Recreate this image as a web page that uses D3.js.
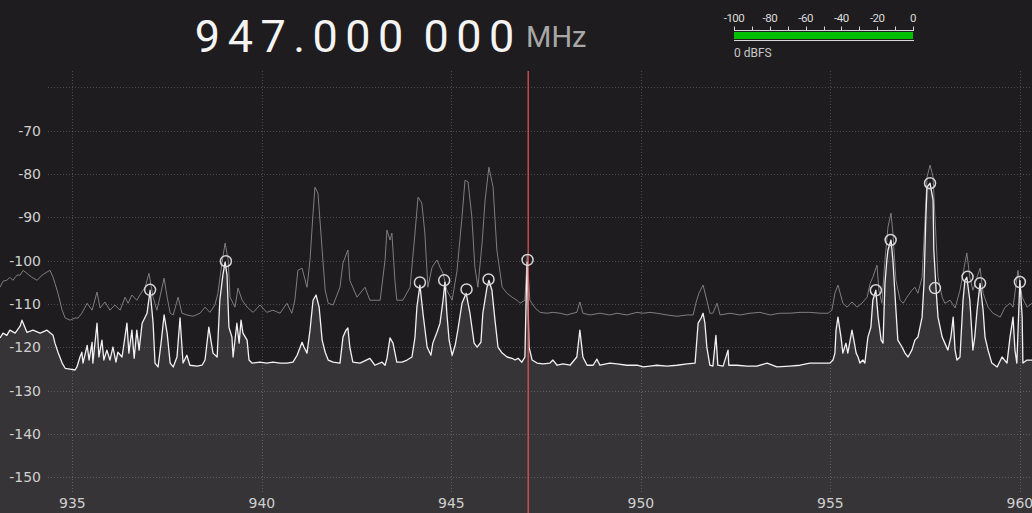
<!DOCTYPE html>
<html>
<head>
<meta charset="utf-8">
<script src="https://cdn.jsdelivr.net/npm/d3@7"></script>
<style>
  html, body { margin: 0; padding: 0; background: #1e1c1e; overflow: hidden; }
  #drawing { width: 1032px; height: 513px; }
</style>
</head>
<body>
<div id="drawing"></div>
<script>
// spectrum readout: frequency [MHz], level [dBFS]
const centreFreq = 947.0;
const freqText = "947.000 000";
const freqUnit = "MHz";
const meterLabel = "0 dBFS";
const meterLevel = 0;

const xTicks = [935, 940, 945, 950, 955, 960];
const yGrid = [-60, -70, -80, -90, -100, -110, -120, -130, -140, -150];
const yLabels = [-70, -80, -90, -100, -110, -120, -130, -140, -150];
const meterTicks = [-100, -90, -80, -70, -60, -50, -40, -30, -20, -10, 0];
const meterLabels = [-100, -80, -60, -40, -20, 0];

// live FFT trace (white)
const liveTrace = [
  [933.09,-117.8],[933.17,-116.7],[933.27,-117.2],[933.35,-116.0],[933.49,-116.7],[933.62,-115.1],
  [933.67,-113.7],[933.80,-116.5],[933.96,-116.0],[934.15,-116.7],[934.33,-116.0],[934.49,-117.2],
  [934.54,-119.0],[934.62,-121.1],[934.73,-123.6],[934.81,-124.8],[934.94,-125.0],[935.07,-125.2],
  [935.12,-124.5],[935.20,-122.2],[935.25,-121.1],[935.28,-123.6],[935.39,-119.5],[935.44,-122.9],
  [935.52,-118.8],[935.54,-123.6],[935.65,-114.4],[935.70,-122.2],[935.78,-118.3],[935.83,-122.9],
  [935.91,-120.6],[935.99,-122.9],[936.07,-119.9],[936.15,-123.4],[936.20,-121.1],[936.31,-122.2],
  [936.44,-114.4],[936.49,-121.3],[936.57,-116.0],[936.63,-122.5],[936.70,-116.0],[936.76,-120.6],
  [936.84,-114.4],[936.97,-112.1],[937.05,-106.8],[937.13,-114.4],[937.18,-123.6],[937.26,-124.5],
  [937.34,-119.0],[937.42,-112.5],[937.50,-116.7],[937.58,-123.6],[937.66,-124.5],[937.76,-122.2],
  [937.84,-113.2],[937.92,-123.6],[938.02,-121.8],[938.10,-124.1],[938.29,-124.3],[938.42,-124.1],
  [938.50,-122.9],[938.60,-115.3],[938.71,-121.3],[938.82,-122.2],[938.89,-109.1],[938.97,-103.3],
  [939.03,-100.3],[939.08,-103.3],[939.13,-115.3],[939.21,-117.6],[939.24,-122.2],[939.34,-114.4],
  [939.40,-119.0],[939.45,-113.7],[939.50,-116.7],[939.61,-118.3],[939.66,-122.9],[939.74,-123.6],
  [939.95,-123.4],[940.13,-123.6],[940.29,-123.4],[940.48,-123.6],[940.66,-123.6],[940.82,-123.4],
  [940.93,-121.8],[941.06,-118.8],[941.11,-119.9],[941.19,-121.3],[941.27,-116.0],[941.35,-109.1],
  [941.43,-107.9],[941.51,-110.7],[941.59,-118.3],[941.67,-121.1],[941.75,-122.9],[941.88,-123.4],
  [942.06,-123.6],[942.14,-117.6],[942.22,-116.0],[942.27,-115.5],[942.32,-119.9],[942.40,-123.4],
  [942.59,-123.6],[942.85,-122.5],[942.98,-124.1],[943.17,-123.4],[943.25,-124.1],[943.30,-122.5],
  [943.38,-117.8],[943.46,-119.0],[943.56,-123.4],[943.70,-123.4],[943.83,-122.9],[943.96,-122.2],
  [944.04,-117.6],[944.09,-110.7],[944.17,-105.6],[944.25,-112.1],[944.36,-119.9],[944.46,-121.8],
  [944.51,-119.0],[944.62,-116.5],[944.70,-114.4],[944.78,-109.1],[944.83,-104.9],[944.88,-112.1],
  [944.94,-118.3],[945.02,-121.8],[945.10,-119.5],[945.17,-116.0],[945.28,-109.8],[945.39,-107.5],
  [945.49,-112.1],[945.60,-119.0],[945.68,-119.9],[945.78,-118.8],[945.83,-112.1],[945.94,-106.1],
  [945.99,-104.5],[946.07,-106.8],[946.15,-113.7],[946.23,-119.9],[946.34,-121.3],[946.47,-122.2],
  [946.60,-122.5],[946.68,-122.9],[946.76,-122.5],[946.86,-123.4],[946.94,-122.2],[946.97,-109.8],
  [947.00,-100.3],[947.02,-109.1],[947.05,-119.9],[947.13,-122.9],[947.26,-123.6],[947.42,-123.8],
  [947.60,-123.6],[947.68,-122.9],[947.79,-124.1],[947.95,-123.8],[948.13,-124.1],[948.31,-122.2],
  [948.39,-116.0],[948.47,-122.2],[948.58,-124.1],[948.74,-124.1],[948.84,-122.7],[948.92,-124.1],
  [949.18,-123.6],[949.37,-123.8],[949.63,-124.1],[949.90,-124.1],[950.06,-124.5],[950.24,-124.3],
  [950.42,-124.1],[950.69,-124.3],[950.95,-124.1],[951.22,-123.8],[951.43,-123.6],[951.51,-114.4],
  [951.59,-113.2],[951.64,-112.1],[951.69,-114.4],[951.74,-119.9],[951.82,-124.1],[951.90,-124.3],
  [951.98,-117.2],[952.03,-124.1],[952.17,-124.3],[952.30,-120.6],[952.32,-124.1],[952.54,-124.1],
  [952.80,-124.3],[953.06,-124.3],[953.33,-123.6],[953.59,-124.5],[953.93,-124.3],[954.20,-124.1],
  [954.46,-123.6],[954.73,-123.6],[954.99,-123.6],[955.07,-122.9],[955.12,-121.3],[955.15,-116.0],
  [955.20,-113.0],[955.28,-117.6],[955.33,-121.3],[955.41,-119.0],[955.46,-121.3],[955.57,-116.0],
  [955.62,-118.3],[955.68,-121.3],[955.73,-122.2],[955.78,-123.6],[955.86,-122.9],[955.91,-123.6],
  [955.99,-117.6],[956.07,-115.3],[956.12,-109.1],[956.20,-106.8],[956.26,-113.0],[956.34,-118.3],
  [956.39,-119.0],[956.44,-105.2],[956.49,-99.8],[956.52,-97.5],[956.60,-95.2],[956.65,-99.8],
  [956.73,-111.4],[956.78,-118.3],[956.89,-119.9],[956.97,-121.3],[957.05,-122.2],[957.15,-120.6],
  [957.23,-118.3],[957.31,-117.6],[957.42,-113.0],[957.47,-105.2],[957.52,-89.9],[957.55,-83.0],
  [957.63,-82.1],[957.71,-86.0],[957.73,-97.5],[957.79,-106.8],[957.84,-113.0],[957.95,-117.6],
  [958.02,-119.0],[958.10,-120.6],[958.18,-117.6],[958.24,-113.0],[958.29,-120.6],[958.34,-122.9],
  [958.42,-122.2],[958.50,-109.1],[958.55,-104.5],[958.60,-103.8],[958.68,-109.1],[958.76,-120.6],
  [958.81,-117.6],[958.87,-111.4],[958.95,-105.2],[959.03,-111.4],[959.08,-117.6],[959.16,-120.6],
  [959.26,-123.6],[959.40,-124.5],[959.53,-122.2],[959.66,-123.6],[959.74,-117.6],[959.82,-113.0],
  [959.87,-120.6],[959.92,-123.6],[960.00,-104.5],[960.06,-113.0],[960.08,-123.6],[960.19,-122.9],
  [960.32,-122.9]
];

// max hold trace (grey)
const maxHold = [
  [933.09,-106.1],[933.17,-104.7],[933.27,-104.5],[933.35,-103.8],[933.43,-104.5],[933.54,-103.3],
  [933.62,-103.3],[933.70,-102.2],[933.80,-102.9],[933.93,-103.8],[934.07,-104.5],[934.20,-103.3],
  [934.33,-102.6],[934.41,-102.2],[934.49,-103.8],[934.54,-105.2],[934.62,-107.5],[934.73,-111.4],
  [934.81,-113.2],[934.94,-113.7],[935.07,-113.2],[935.15,-113.2],[935.25,-112.1],[935.39,-109.8],
  [935.52,-111.4],[935.65,-107.2],[935.73,-110.9],[935.86,-109.5],[935.99,-111.4],[936.12,-110.2],
  [936.26,-111.4],[936.39,-108.4],[936.47,-109.8],[936.57,-107.9],[936.70,-109.1],[936.78,-107.9],
  [936.92,-106.1],[937.02,-102.9],[937.13,-108.4],[937.23,-111.4],[937.31,-108.4],[937.42,-104.0],
  [937.50,-108.4],[937.58,-112.1],[937.66,-112.5],[937.79,-108.4],[937.89,-112.1],[938.02,-112.5],
  [938.18,-112.8],[938.37,-112.1],[938.50,-110.7],[938.63,-111.9],[938.76,-110.2],[938.84,-107.5],
  [938.95,-100.3],[939.03,-95.9],[939.11,-99.8],[939.16,-108.4],[939.29,-110.7],[939.37,-106.3],
  [939.48,-109.1],[939.61,-110.7],[939.77,-111.9],[939.95,-110.2],[940.13,-111.9],[940.29,-111.4],
  [940.48,-112.1],[940.66,-109.8],[940.79,-112.1],[940.87,-109.1],[940.95,-102.2],[941.06,-101.7],
  [941.19,-106.1],[941.27,-99.8],[941.35,-89.0],[941.40,-83.0],[941.48,-84.4],[941.59,-97.5],
  [941.67,-106.8],[941.75,-109.8],[941.88,-110.2],[942.06,-106.1],[942.14,-100.5],[942.27,-97.5],
  [942.32,-104.5],[942.51,-108.4],[942.72,-106.1],[942.85,-109.1],[943.12,-109.1],[943.25,-99.8],
  [943.30,-92.9],[943.38,-95.2],[943.43,-93.6],[943.51,-104.5],[943.56,-109.1],[943.72,-109.1],
  [943.91,-106.1],[944.04,-93.6],[944.12,-85.3],[944.22,-86.7],[944.30,-93.6],[944.38,-106.1],
  [944.49,-101.5],[944.62,-99.8],[944.70,-101.5],[944.78,-102.9],[944.88,-106.8],[945.02,-109.1],
  [945.15,-102.2],[945.28,-89.9],[945.36,-81.4],[945.44,-81.8],[945.54,-89.9],[945.62,-101.5],
  [945.70,-106.1],[945.81,-95.9],[945.89,-86.0],[945.99,-78.4],[946.10,-83.0],[946.20,-97.5],
  [946.34,-106.1],[946.47,-107.5],[946.60,-108.4],[946.73,-109.1],[946.81,-109.8],[946.94,-109.1],
  [947.00,-98.7],[947.07,-109.1],[947.21,-110.9],[947.34,-111.9],[947.52,-112.1],[947.68,-111.9],
  [947.87,-112.1],[948.05,-112.5],[948.21,-112.1],[948.31,-111.9],[948.39,-109.5],[948.47,-112.1],
  [948.66,-112.5],[948.92,-112.1],[949.18,-112.5],[949.37,-112.1],[949.63,-112.5],[949.90,-111.9],
  [950.06,-112.1],[950.24,-111.9],[950.42,-112.1],[950.69,-112.5],[950.95,-112.8],[951.22,-112.5],
  [951.38,-112.5],[951.45,-109.8],[951.53,-107.5],[951.64,-105.6],[951.74,-109.1],[951.82,-112.1],
  [951.90,-112.1],[952.01,-109.8],[952.09,-112.5],[952.35,-112.1],[952.62,-112.5],[952.88,-112.1],
  [953.14,-111.9],[953.41,-112.5],[953.67,-112.1],[953.93,-112.1],[954.20,-111.9],[954.46,-111.9],
  [954.73,-112.1],[954.94,-112.1],[955.04,-111.4],[955.12,-107.5],[955.20,-105.6],[955.33,-109.8],
  [955.44,-110.7],[955.57,-109.5],[955.70,-110.7],[955.83,-109.8],[955.97,-108.4],[956.05,-105.2],
  [956.12,-103.8],[956.23,-101.0],[956.28,-106.8],[956.36,-109.8],[956.44,-99.8],[956.52,-92.2],
  [956.60,-89.0],[956.65,-93.6],[956.73,-104.5],[956.84,-109.1],[956.92,-109.8],[957.02,-108.4],
  [957.15,-106.8],[957.23,-106.1],[957.31,-107.5],[957.42,-103.8],[957.50,-89.9],[957.55,-80.7],
  [957.63,-77.9],[957.71,-80.7],[957.76,-89.9],[957.84,-103.8],[957.95,-108.4],[958.02,-109.8],
  [958.16,-109.1],[958.29,-110.9],[958.42,-106.8],[958.53,-101.5],[958.60,-98.2],[958.68,-103.8],
  [958.76,-106.8],[958.87,-103.8],[958.95,-101.7],[959.03,-107.5],[959.16,-110.7],[959.29,-112.1],
  [959.48,-113.0],[959.61,-110.7],[959.74,-109.8],[959.82,-110.7],[959.95,-102.2],[960.06,-108.4],
  [960.19,-110.7],[960.32,-109.8]
];

// detected peaks
const peaks = [
  [937.05,-106.7],[939.05,-100.1],[944.17,-105.0],[944.81,-104.5],[945.40,-106.6],[945.98,-104.3],
  [947.01,-99.8],[956.20,-106.8],[956.59,-95.2],[957.63,-82.1],[957.76,-106.3],[958.62,-103.7],
  [958.95,-105.2],[960.00,-104.9]
];

var dwgDiv = null;
var svg = null;

function drawHeader() {
    // frequency readout, each glyph placed in its own cell
    const cellWidth = { digit: 32.8, ".": 19.2, " ": 12.6 };
    var cursor = 191.1;
    const cells = [];
    for (const ch of freqText) {
        const w = cellWidth[ch] || cellWidth.digit;
        cells.push({ ch: ch, x: cursor + w / 2 });
        cursor += w;
    }
    svg.append("g").selectAll("text")
        .data(cells.filter(function (d) { return d.ch !== " "; }))
        .enter().append("text")
        .attr("x", function (d) { return d.x; })
        .attr("y", 52)
        .attr("text-anchor", "middle")
        .style("font-family", "Roboto, 'Noto Sans', sans-serif")
        .style("font-size", "45px")
        .style("fill", "#f4f4f4")
        .text(function (d) { return d.ch; });

    svg.append("text")
        .attr("x", cursor + 8)
        .attr("y", 47)
        .style("font-family", "Roboto, 'Noto Sans', sans-serif")
        .style("font-size", "29px")
        .style("fill", "#a8a8a8")
        .text(freqUnit);

    // level meter
    const m = d3.scaleLinear().domain([-100, 0]).range([734, 913]);
    const meter = svg.append("g");
    meter.append("rect")
        .attr("x", m(-100)).attr("y", 32)
        .attr("width", m(meterLevel) - m(-100)).attr("height", 7)
        .style("fill", "#00bf00");
    meter.append("line")
        .attr("x1", m(-100)).attr("x2", m(0) + 1)
        .attr("y1", 30.5).attr("y2", 30.5)
        .attr("stroke", "#d8d8d8").attr("stroke-width", 1);
    meter.append("line")
        .attr("x1", m(-100)).attr("x2", m(0) + 1)
        .attr("y1", 40.5).attr("y2", 40.5)
        .attr("stroke", "#d8d8d8").attr("stroke-width", 1);
    meter.selectAll("line.tick")
        .data(meterTicks)
        .enter().append("line")
        .attr("class", "tick")
        .attr("x1", function (d) { return Math.round(m(d)) + 0.5; })
        .attr("x2", function (d) { return Math.round(m(d)) + 0.5; })
        .attr("y1", 26.5).attr("y2", 30.5)
        .attr("stroke", "#d8d8d8").attr("stroke-width", 1);
    meter.selectAll("text.lbl")
        .data(meterLabels)
        .enter().append("text")
        .attr("class", "lbl")
        .attr("x", function (d) { return m(d); })
        .attr("y", 22)
        .attr("text-anchor", "middle")
        .style("font-family", "'Liberation Sans Narrow', Roboto, sans-serif")
        .style("font-size", "11.5px")
        .style("letter-spacing", "-0.5px")
        .style("fill", "#dcdcdc")
        .text(function (d) { return d; });
    meter.append("text")
        .attr("x", m(-100))
        .attr("y", 57)
        .style("font-family", "'Liberation Sans Narrow', Roboto, sans-serif")
        .style("font-size", "12px")
        .style("fill", "#c8c8c8")
        .text(meterLabel);
}

function drawSpectrum() {
    const width = 1032;
    const height = 513;
    const top = 71;

    const x = d3.scaleLinear().domain([933.09, 960.32]).range([0, width]);
    const y = d3.scaleLinear().domain([-56.2, -158.2]).range([top, height]);

    // filled area below the live trace
    const area = d3.area()
        .x(function (d) { return x(d[0]); })
        .y0(height)
        .y1(function (d) { return y(d[1]); });
    svg.append("path")
        .datum(liveTrace)
        .attr("d", area)
        .style("fill", "#363436");

    // grid
    const grid = svg.append("g")
        .attr("stroke", "rgba(200,200,200,0.28)")
        .attr("stroke-width", 1)
        .attr("stroke-dasharray", "1,2");
    grid.selectAll("line.h")
        .data(yGrid)
        .enter().append("line")
        .attr("class", "h")
        .attr("x1", 48).attr("x2", width)
        .attr("y1", function (d) { return Math.round(y(d)) + 0.5; })
        .attr("y2", function (d) { return Math.round(y(d)) + 0.5; });
    grid.selectAll("line.v")
        .data(xTicks)
        .enter().append("line")
        .attr("class", "v")
        .attr("x1", function (d) { return Math.round(x(d)) + 0.5; })
        .attr("x2", function (d) { return Math.round(x(d)) + 0.5; })
        .attr("y1", top).attr("y2", 492);

    const line = d3.line()
        .x(function (d) { return x(d[0]); })
        .y(function (d) { return y(d[1]); });

    svg.append("path")
        .datum(maxHold)
        .attr("d", line)
        .style("fill", "none")
        .style("stroke", "#7e7e7e")
        .style("stroke-width", 1);

    svg.append("path")
        .datum(liveTrace)
        .attr("d", line)
        .style("fill", "none")
        .style("stroke", "#f2f2f2")
        .style("stroke-width", 1.3)
        .style("stroke-linejoin", "round");

    // demod centre
    svg.append("line")
        .attr("x1", x(centreFreq) + 1)
        .attr("x2", x(centreFreq) + 1)
        .attr("y1", top).attr("y2", height)
        .attr("stroke", "#e65a5a").attr("stroke-width", 1.2);

    // peak markers
    svg.append("g").selectAll("circle")
        .data(peaks)
        .enter().append("circle")
        .attr("cx", function (d) { return x(d[0]); })
        .attr("cy", function (d) { return y(d[1]); })
        .attr("r", 5.5)
        .style("fill", "none")
        .style("stroke", "#d6d6d6")
        .style("stroke-width", 1.5);

    // axis labels
    svg.append("g").selectAll("text")
        .data(yLabels)
        .enter().append("text")
        .attr("x", 41)
        .attr("y", function (d) { return y(d); })
        .attr("dy", "0.35em")
        .attr("text-anchor", "end")
        .style("font-family", "'DejaVu Sans', sans-serif")
        .style("font-size", "14px")
        .style("fill", "#cfcfcf")
        .text(function (d) { return d; });

    svg.append("g").selectAll("text")
        .data(xTicks)
        .enter().append("text")
        .attr("x", function (d) { return x(d); })
        .attr("y", 503)
        .attr("dy", "0.35em")
        .attr("text-anchor", "middle")
        .style("font-family", "'DejaVu Sans', sans-serif")
        .style("font-size", "14px")
        .style("fill", "#cfcfcf")
        .text(function (d) { return d; });
}

document.addEventListener('DOMContentLoaded', () => {
    dwgDiv = document.getElementById("drawing");
    svg = d3.select(dwgDiv).append("svg")
        .attr("width", 1032)
        .attr("height", 513);
    svg.append("rect")
        .attr("width", 1032).attr("height", 513)
        .style("fill", "#1e1c1e");
    drawHeader();
    drawSpectrum();
});
</script>
</body>
</html>
